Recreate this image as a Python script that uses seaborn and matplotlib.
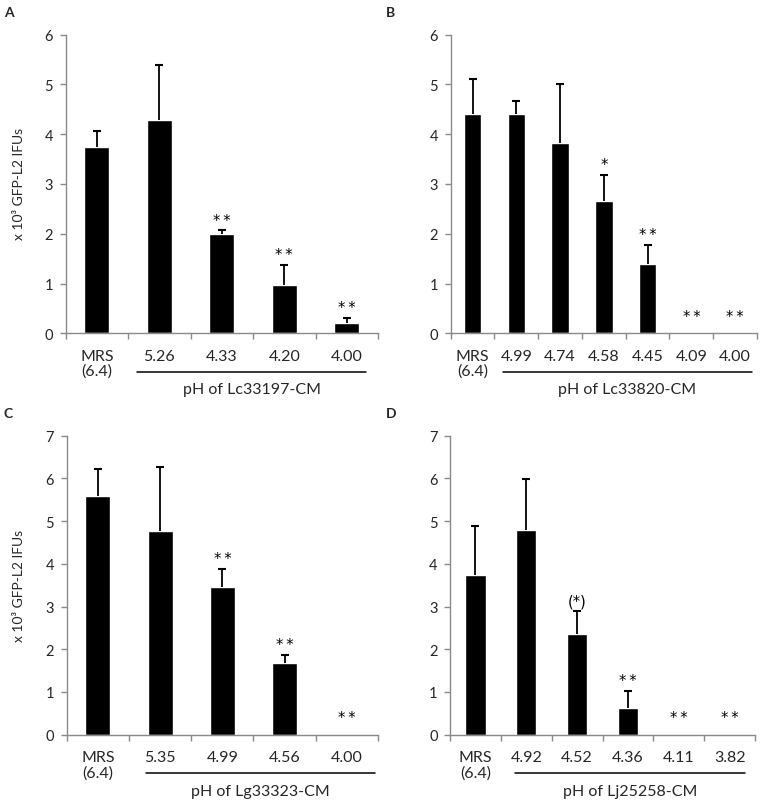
import numpy as np
import pandas as pd
import matplotlib
matplotlib.use("Agg")
import matplotlib.pyplot as plt
import seaborn as sns
from matplotlib.transforms import blended_transform_factory

sns.set_style("ticks")
plt.rcParams['font.family'] = ['Lato', 'DejaVu Sans']

# ---- data ----
a_labels = ["MRS\n(6.4)", "5.26", "4.33", "4.20", "4.00"]
a_means = [3.75, 4.28, 2.00, 0.97, 0.20]
a_errs = [0.32, 1.12, 0.07, 0.40, 0.11]
a_sig = ["", "", "**", "**", "**"]
a_title = "pH of Lc33197-CM"

b_labels = ["MRS\n(6.4)", "4.99", "4.74", "4.58", "4.45", "4.09", "4.00"]
b_means = [4.40, 4.40, 3.82, 2.65, 1.40, 0.0, 0.0]
b_errs = [0.70, 0.27, 1.18, 0.53, 0.38, 0.0, 0.0]
b_sig = ["", "", "", "*", "**", "**", "**"]
b_title = "pH of Lc33820-CM"

c_labels = ["MRS\n(6.4)", "5.35", "4.99", "4.56", "4.00"]
c_means = [5.60, 4.76, 3.45, 1.68, 0.0]
c_errs = [0.62, 1.50, 0.43, 0.19, 0.0]
c_sig = ["", "", "**", "**", "**"]
c_title = "pH of Lg33323-CM"

d_labels = ["MRS\n(6.4)", "4.92", "4.52", "4.36", "4.11", "3.82"]
d_means = [3.73, 4.80, 2.35, 0.62, 0.0, 0.0]
d_errs = [1.15, 1.18, 0.55, 0.40, 0.0, 0.0]
d_sig = ["", "", "(*)", "**", "**", "**"]
d_title = "pH of Lj25258-CM"

ylabel = "x 10³ GFP-L2 IFUs"

W, H = 761, 803
fig = plt.figure(figsize=(W / 100, H / 100), dpi=100)
GREY = "#8a8a8a"
FS = 10.5
FSX = 11.5


def rect(l, r, top, bot):
    return [l / W, 1 - bot / H, (r - l) / W, (bot - top) / H]


panels = [
    ("A", rect(65.7, 378, 35.7, 334.3), a_labels, a_means, a_errs, a_sig, a_title, 6, (0.64, 4.31), (4, 7)),
    ("B", rect(450.7, 757, 35.7, 334.3), b_labels, b_means, b_errs, b_sig, b_title, 6, (0.69, 6.39), (386, 7)),
    ("C", rect(66.7, 378, 436.7, 735.7), c_labels, c_means, c_errs, c_sig, c_title, 7, (0.77, 4.45), (4, 408)),
    ("D", rect(450, 755, 436.7, 735.7), d_labels, d_means, d_errs, d_sig, d_title, 7, (0.78, 5.30), (386, 408)),
]

for letter, r, labels, means, errs, sig, title, ymax, (x0, x1), (lx, ly) in panels:
    ax = fig.add_axes(r)
    n = len(labels)
    df = pd.DataFrame({"cat": labels, "mean": means})
    sns.barplot(data=df, x="cat", y="mean", order=labels, color="black",
                saturation=1, width=0.4, errorbar=None, ax=ax)
    xs = np.arange(n)
    means_a = np.array(means)
    errs_a = np.array(errs)
    m = errs_a > 0
    ax.errorbar(xs[m], means_a[m], yerr=[np.zeros(m.sum()), errs_a[m]], fmt="none",
                ecolor="black", elinewidth=1.3, capsize=0)
    ax.plot(xs[m], (means_a + errs_a)[m], ls="none", marker="_", markersize=5.5,
            markeredgewidth=1.5, color="black")
    for i in range(n):
        if sig[i]:
            top = means[i] + errs[i]
            off = 2 if top > 0 else 7
            txt = sig[i].replace("**", "*\u2009*")
            ax.annotate(txt, (i, top), xytext=(0, off), textcoords="offset points",
                        ha="center", va="bottom", fontsize=FS,
                        family=["DejaVu Sans"], color="black")
    ax.set_xlim(-0.5, n - 0.5)
    ax.set_ylim(0, ymax)
    ax.set_yticks(range(0, ymax + 1))
    ax.set_xlabel("")
    ax.set_ylabel("")
    ax.set_xticks(xs)
    ax.set_xticklabels(labels, fontsize=FSX, linespacing=1.1)
    ax.set_xticks(np.arange(n + 1) - 0.5, minor=True)
    ax.tick_params(axis="x", which="major", length=0, pad=11)
    ax.tick_params(axis="x", which="minor", length=4.5, width=1, color=GREY, direction="out", bottom=True)
    ax.tick_params(axis="y", which="major", length=4, width=1, color=GREY, pad=5, labelsize=FS, left=True)
    for s in ["top", "right"]:
        ax.spines[s].set_visible(False)
    for s in ["left", "bottom"]:
        ax.spines[s].set_color(GREY)
        ax.spines[s].set_linewidth(1)
    tr = blended_transform_factory(ax.transData, ax.transAxes)
    ax.plot([x0, x1], [-0.128, -0.128], color="black", lw=1.1, transform=tr, clip_on=False)
    ax.text((x0 + x1) / 2, -0.187, title, transform=tr, ha="center", va="center", fontsize=FSX)
    fig.text(lx / W, 1 - ly / H, letter, ha="left", va="top", fontsize=FS - 0.5, fontweight="bold")

fig.text(19 / W, 1 - 184 / H, ylabel, rotation=90, ha="center", va="center", fontsize=FS - 0.5)
fig.text(19 / W, 1 - 586 / H, ylabel, rotation=90, ha="center", va="center", fontsize=FS - 0.5)

fig.savefig("out.png", dpi=100)
